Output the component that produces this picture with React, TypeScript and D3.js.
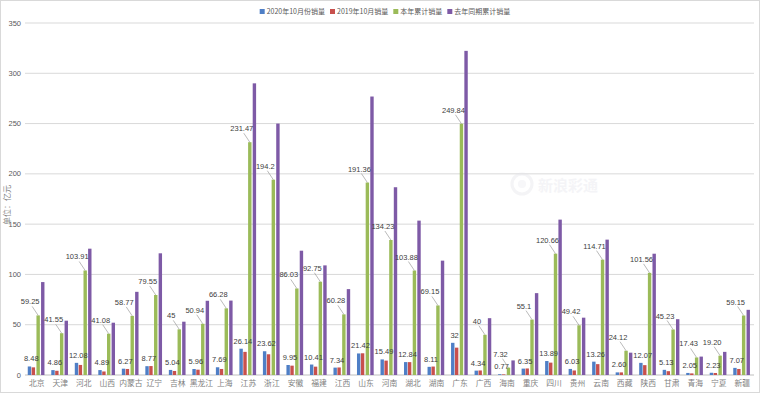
import React from "react";
import * as d3 from "d3";

const categories = ["北京","天津","河北","山西","内蒙古","辽宁","吉林","黑龙江","上海","江苏","浙江","安徽","福建","江西","山东","河南","湖北","湖南","广东","广西","海南","重庆","四川","贵州","云南","西藏","陕西","甘肃","青海","宁夏","新疆"];

const oct2020 = [8.48,4.86,12.08,4.89,6.27,8.77,5.04,5.96,7.69,26.14,23.62,9.95,10.41,7.34,21.42,15.49,12.84,8.11,32,4.34,0.77,6.35,13.89,6.03,13.26,2.60,12.07,5.13,2.05,2.23,7.07];
const oct2020Labels = ["8.48","4.86","12.08","4.89","6.27","8.77","5.04","5.96","7.69","26.14","23.62","9.95","10.41","7.34","21.42","15.49","12.84","8.11","32","4.34","0.77","6.35","13.89","6.03","13.26","2.60","12.07","5.13","2.05","2.23","7.07"];

const oct2019 = [7.6,4.2,10,3.5,6.0,8.9,4.0,5.3,6.0,23,20.6,9.3,8.3,7.5,21.6,14.3,12.8,8.4,27.2,4.5,0.6,6.5,12.3,4.5,10.8,2.6,9.8,3.8,1.6,2.0,6.0];

const ytd2020 = [59.25,41.55,103.91,41.08,58.77,79.55,45.4,50.94,66.28,231.47,194.2,86.03,92.75,60.28,191.36,134.23,103.88,69.15,249.84,40,7.32,55.1,120.66,49.42,114.71,24.12,101.56,45.23,17.43,19.20,59.15];
const ytd2020Labels = ["59.25","41.55","103.91","41.08","58.77","79.55","45","50.94","66.28","231.47","194.2","86.03","92.75","60.28","191.36","134.23","103.88","69.15","249.84","40","7.32","55.1","120.66","49.42","114.71","24.12","101.56","45.23","17.43","19.20","59.15"];

const ytd2019 = [92.4,54,125.6,52,82.7,121,53,73.8,74,290,250,123.6,109,85.4,276.9,186.7,153.5,113.7,322.3,56.5,14.5,81.4,154.5,57,134.6,22.2,120.6,55.5,18.3,23,64.8];

const seriesNames = ["2020年10月份销量","2019年10月销量","本年累计销量","去年同期累计销量"];
const yTicks = [0,50,100,150,200,250,300,350];

const COLORS = ["#4F7FC6","#C8504D","#9BBB59","#7E5AA6"];
const OFFSETS = [-7.3,-3.4,1.4,6.0];
const BAR_W = 3.4;
const W = 760, H = 393;
const LEFT = 25, RIGHT = 754, TOP = 23, BOTTOM = 375;
const FONT = "'Liberation Sans', Arial, sans-serif";
const CJK = "'Noto Sans CJK SC', sans-serif";

function measure(text: string, size: number, family: string) {
  if (typeof document === "undefined") return text.length * size * 0.6;
  const c = document.createElement("canvas").getContext("2d");
  if (!c) return text.length * size * 0.6;
  c.font = `${size}px ${family}`;
  return c.measureText(text).width;
}

export default function App() {
  const x = d3.scaleBand<string>().domain(categories).range([LEFT, RIGHT]);
  const y = d3.scaleLinear().domain([0, 350]).range([BOTTOM, TOP]);
  const series = [oct2020, oct2019, ytd2020, ytd2019];
  const center = (c: string) => (x(c) as number) + x.bandwidth() / 2;

  const legFs = 7;
  const items = seriesNames.map((n) => ({ n, w: measure(n, legFs, CJK) }));
  const total = items.reduce((s, it) => s + 7 + it.w + 5, 0) - 5;
  let lx = 385 - total / 2;
  const legendItems = items.map((it, i) => {
    const pos = lx;
    lx += 7 + it.w + 5;
    return { ...it, x: pos, i };
  });

  return (
    <svg width={W} height={H} style={{ position: "absolute", left: 0, top: 0, background: "#fff" }}>
      <rect x={0.5} y={0.5} width={W - 1} height={H - 1} fill="#fff" stroke="#d9d9d9" />
      {yTicks.map((t) => (
        <g key={t}>
          <line x1={LEFT} x2={RIGHT} y1={y(t)} y2={y(t)} stroke={t === 0 ? "#bfbfbf" : "#d9d9d9"} strokeWidth={1} />
          <text x={21} y={y(t) + 2.5} textAnchor="end" fontSize={7.5} fill="#595959" fontFamily={FONT}>{t}</text>
        </g>
      ))}
      <text transform={`translate(10,${205}) rotate(-90)`} textAnchor="middle" fontSize={8} fill="#7f7f7f" fontFamily={CJK}>单位：亿元</text>

      <g opacity={0.4}>
        <circle cx={522} cy={184} r={10} fill="none" stroke="#e4e4ea" strokeWidth={3} />
        <circle cx={522} cy={184} r={4} fill="#ececf2" />
        <text x={538} y={191} fontSize={15} fill="#e6e6ec" fontFamily={CJK} fontWeight="bold">新浪彩通</text>
      </g>

      {series.map((vals, si) => (
        <g key={si}>
          {categories.map((c, i) => (
            <rect key={c} x={center(c) + OFFSETS[si] - BAR_W / 2} y={y(vals[i])} width={BAR_W} height={BOTTOM - y(vals[i])} fill={COLORS[si]} />
          ))}
        </g>
      ))}

      {categories.map((c, i) => (
        <text key={c} x={center(c) - 5.5} y={y(oct2020[i]) - 5} textAnchor="middle" fontSize={7.5} fill="#404040" fontFamily={FONT}>{oct2020Labels[i]}</text>
      ))}

      {categories.map((c, i) => {
        const gx = center(c) + OFFSETS[2];
        const top = y(ytd2020[i]);
        const lxC = gx - 8;
        const ly = top - 11;
        return (
          <g key={c}>
            <line x1={lxC + 2} y1={ly + 2} x2={gx} y2={top} stroke="#8c8c8c" strokeWidth={0.6} />
            <text x={lxC} y={ly} textAnchor="middle" fontSize={7.5} fill="#404040" fontFamily={FONT}>{ytd2020Labels[i]}</text>
          </g>
        );
      })}

      {categories.map((c) => (
        <text key={c} x={center(c)} y={386} textAnchor="middle" fontSize={7.8} fill="#7f7f7f" fontFamily={CJK}>{c}</text>
      ))}

      {legendItems.map((it) => (
        <g key={it.n}>
          <rect x={it.x} y={9} width={5} height={5} fill={COLORS[it.i]} />
          <text x={it.x + 7} y={14} fontSize={legFs} fill="#595959" fontFamily={CJK}>{it.n}</text>
        </g>
      ))}
    </svg>
  );
}
